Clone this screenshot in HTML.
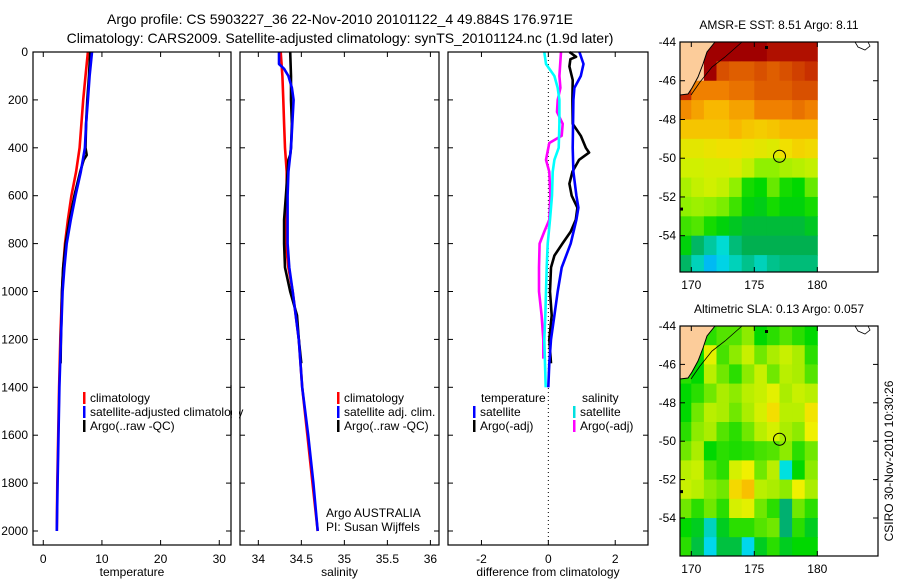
<!DOCTYPE html>
<html><head><meta charset="utf-8"><style>
body{margin:0;background:#fff;}
svg{display:block;font-family:"Liberation Sans",sans-serif;}
</style></head><body>
<svg id="fig" width="900" height="580" viewBox="0 0 900 580">
<text x="340" y="24" text-anchor="middle" font-size="14">Argo profile: CS 5903227_36 22-Nov-2010 20101122_4 49.884S 176.971E</text>
<text x="340" y="43" text-anchor="middle" font-size="14">Climatology: CARS2009. Satellite-adjusted climatology: synTS_20101124.nc (1.9d later)</text>
</svg>
<script>
// ---- profile data ----
const depthLevels=[0,100,200,300,400,500,600,700,800,900,1000,1200,1400,1600,1800,2000];
const tempClim=[7.6,7.2,6.8,6.5,6.2,5.6,4.8,4.2,3.7,3.4,3.2,2.9,2.7,2.55,2.4,2.3];
const tempSat=[8.3,7.9,7.6,7.3,7.1,6.4,5.5,4.7,4.0,3.6,3.3,3.0,2.75,2.6,2.45,2.3];
const argoDepth=[0,100,200,300,400,430,450,500,600,700,800,900,1000,1100,1200,1300];
const tempArgo=[8.0,7.8,7.5,7.3,7.2,7.4,6.9,6.3,5.3,4.5,3.8,3.4,3.2,3.1,3.0,2.95];
const salClim=[34.26,34.28,34.29,34.30,34.31,34.33,34.33,34.32,34.32,34.35,34.40,34.47,34.51,34.57,34.63,34.69];
const salSatDepth=[0,50,70,100,150,200,400,500,600,800,900,1000,1200,1400,1600,1800,2000];
const salSat=[34.24,34.24,34.30,34.35,34.39,34.41,34.38,34.35,34.34,34.34,34.36,34.40,34.47,34.51,34.58,34.64,34.69];
const salArgo=[34.37,34.38,34.38,34.39,34.38,34.37,34.35,34.34,34.32,34.30,34.30,34.31,34.37,34.45,34.47,34.50];
const diffTempSatDepth=[0,50,100,150,200,400,500,600,650,700,800,900,1000,1100,1200,1300,1400];
const diffTempSat=[0.93,1.05,0.97,0.78,0.75,0.73,0.75,0.84,0.9,0.84,0.67,0.4,0.28,0.18,0.08,0.03,0.0];
const diffTempArgoDepth=[0,20,30,60,117,200,300,350,400,420,450,500,550,600,650,700,750,800,850,900,1000,1100,1200,1300];
const diffTempArgo=[0.63,0.83,0.66,0.63,0.73,0.72,0.73,0.97,1.12,1.22,0.92,0.72,0.63,0.7,0.87,0.82,0.67,0.42,0.18,0.08,0.05,0.1,0.03,0.08];
const diffSalSatDepth=[0,50,100,150,200,300,400,450,500,600,700,800,900,1000,1100,1200,1400];
const diffSalSat=[-0.12,-0.07,0.18,0.28,0.33,0.33,0.31,0.18,0.13,0.11,0.05,-0.02,-0.05,-0.07,-0.09,-0.12,-0.08];
const diffSalArgoDepth=[0,100,150,200,250,300,350,380,450,500,600,700,750,800,900,1000,1100,1200,1280];
const diffSalArgo=[0.38,0.33,0.36,0.28,0.26,0.43,0.40,0.03,-0.07,0.03,0.06,0.03,-0.12,-0.26,-0.28,-0.28,-0.2,-0.15,-0.15];
// ---- map data (1-degree cells, rows from -44 southward, cols from 169) ----
const sstGrid=[
[null,null,12,12,12,12,12,11.8,11.8,11.8,11.8],
[null,null,12,11,10.8,10.8,11,10.8,11,11.2,11.4],
[11.5,10.3,10.3,10.3,10.5,10.5,10.8,10.8,10.8,11,11],
[10.2,10,9.8,9.8,10,10,10.3,10.3,10.3,10.5,10.3],
[9.6,9.6,9.6,9.6,9.8,9.6,9.5,9.6,9.8,9.8,9.8],
[9,9,9.1,9.2,9.2,9.1,9,8.9,9.2,9.4,9.3],
[8.7,8.7,8.8,8.8,8.9,8.6,8.2,8.2,8.4,8.5,8.6],
[8.4,8.6,8.7,8.6,8.2,7.6,7.5,8.0,7.6,7.5,8.0],
[8.2,8.3,8.2,8.1,7.8,7.4,7.3,7.6,7.4,7.4,7.6],
[7.8,7.9,7.6,7.4,7.2,7.0,7.0,7.0,7.0,7.0,7.2],
[7.4,6.6,6.0,5.6,6.4,6.8,6.8,6.8,6.8,6.8,6.8],
[6.6,5.8,5.2,5.4,5.8,6.2,5.8,6.2,6.4,6.4,6.4]];
const slaGrid=[
[null,null,-0.05,-0.02,-0.02,0.02,-0.08,-0.05,-0.02,-0.05,-0.08],
[null,-0.08,0.1,-0.03,0.02,0.06,0.0,0.04,0.06,0.04,-0.05],
[-0.05,-0.08,0.05,0.0,-0.05,0.02,0.06,0.0,0.05,0.04,-0.02],
[-0.08,-0.05,0.0,0.04,0.02,0.05,0.06,0.1,0.04,0.06,0.05],
[-0.08,0.0,0.05,0.04,0.0,0.04,0.08,0.15,0.05,0.05,0.14],
[-0.05,0.02,0.04,-0.02,-0.05,0.0,0.05,0.08,0.04,0.02,0.12],
[0.0,0.04,-0.08,-0.05,-0.06,-0.05,-0.03,-0.02,0.02,-0.05,0.0],
[0.05,0.06,-0.02,-0.05,0.08,0.12,0.0,0.05,-0.22,-0.08,0.02],
[0.06,0.05,0.02,0.0,0.16,0.2,0.05,0.04,0.02,0.12,0.04],
[0.0,-0.05,0.0,-0.05,0.08,0.1,0.0,-0.05,-0.15,0.0,-0.05],
[-0.08,-0.1,-0.2,-0.1,-0.05,-0.05,-0.02,0.0,-0.15,-0.05,-0.1],
[-0.05,-0.12,-0.25,-0.12,-0.12,-0.25,-0.1,-0.05,-0.1,-0.08,-0.08]];
const floatLon=177.0, floatLat=-49.9;
const tempTicks=[0,10,20,30], salTicks=[34,34.5,35,35.5,36], diffTicks=[-2,0,2];
const depthTicks=[0,200,400,600,800,1000,1200,1400,1600,1800,2000];
const latTicks=[-44,-46,-48,-50,-52,-54], lonTicks=[170,175,180];

const NS='http://www.w3.org/2000/svg', svg=document.getElementById('fig');
function el(tag,attrs,parent){const e=document.createElementNS(NS,tag);for(const k in attrs)e.setAttribute(k,attrs[k]);(parent||svg).appendChild(e);return e;}
function txt(x,y,s,attrs){const t=el('text',Object.assign({x:x,y:y,'font-size':12},attrs||{}));t.textContent=s;return t;}

const PT=52,PB=545, yD=d=>52+d*0.2395;
const panels=[
 {x0:33,x1:231,v0:-1.75,v1:32,ticks:tempTicks,label:'temperature',name:'temperature-panel',ylab:true},
 {x0:240,x1:439,v0:33.787,v1:36.1,ticks:salTicks,label:'salinity',name:'salinity-panel'},
 {x0:448,x1:648,v0:-3.0,v1:2.98,ticks:diffTicks,label:'difference from climatology',name:'difference-panel'}];
panels.forEach(p=>{p.sx=v=>p.x0+(v-p.v0)/(p.v1-p.v0)*(p.x1-p.x0);});

function axes(p){
  const g=el('g',{});
  
  
  p.ticks.forEach(v=>{const x=p.sx(v);
    el('line',{x1:x,x2:x,y1:PB,y2:PB-5,stroke:'#000'},g);el('line',{x1:x,x2:x,y1:PT,y2:PT+5,stroke:'#000'},g);
    const t=txt(x,563,String(v),{'text-anchor':'middle'});});
  depthTicks.forEach(d=>{const y=yD(d);
    el('line',{x1:p.x0,x2:p.x0+5,y1:y,y2:y,stroke:'#000'},g);el('line',{x1:p.x1,x2:p.x1-5,y1:y,y2:y,stroke:'#000'},g);
    if(p.ylab){const t=txt(p.x0-5,y+4,String(d),{'text-anchor':'end'});}});
  const xl=txt((p.x0+p.x1)/2,576,p.label,{'text-anchor':'middle'});
  
  
  return g;
}
function box(p){const r=el('rect',{x:p.x0,y:PT,width:p.x1-p.x0,height:PB-PT,fill:'none',stroke:'#000','stroke-width':1.2});}
function line(p,depths,vals,color,name){
  const pts=depths.map((d,i)=>p.sx(vals[i]).toFixed(1)+','+yD(d).toFixed(1)).join(' ');
  const l=el('polyline',{points:pts,fill:'none',stroke:color,'stroke-width':2.6,'stroke-linejoin':'round'});
  
  
}
panels.forEach(axes);
// zero line in diff panel
const zl=el('line',{x1:panels[2].sx(0),x2:panels[2].sx(0),y1:PT,y2:PB,stroke:'#000','stroke-dasharray':'1,3'});


const P0=panels[0],P1=panels[1],P2=panels[2];
line(P0,depthLevels,tempClim,'#ff0000','temp-climatology-line');
line(P0,argoDepth,tempArgo,'#000','temp-argo-line');
line(P0,depthLevels,tempSat,'#0000ff','temp-satellite-line');
line(P1,depthLevels,salClim,'#ff0000','sal-climatology-line');
line(P1,argoDepth,salArgo,'#000','sal-argo-line');
line(P1,salSatDepth,salSat,'#0000ff','sal-satellite-line');
line(P2,diffSalArgoDepth,diffSalArgo,'#ff00ff','diff-sal-argo-line');
line(P2,diffSalSatDepth,diffSalSat,'#00ffff','diff-sal-satellite-line');
line(P2,diffTempArgoDepth,diffTempArgo,'#000','diff-temp-argo-line');
line(P2,diffTempSatDepth,diffTempSat,'#0000ff','diff-temp-satellite-line');
panels.forEach(box);

function legend(x,y,color,label){
  const g=el('g',{});
  
  
  el('rect',{x:x,y:y-10,width:2.5,height:12,fill:color},g);
  const t=el('text',{x:x+7,y:y,'font-size':12},g);t.textContent=label;
}
legend(83,402,'#ff0000','climatology');legend(83,416,'#0000ff','satellite-adjusted climatology');legend(83,430,'#000','Argo(..raw -QC)');
// cover overflow of legend text past panel edge
const cov=el('rect',{x:232,y:385,width:7,height:50,fill:'#fff'});
el('line',{x1:231,x2:231,y1:385,y2:435,stroke:'#000','stroke-width':1.2});
legend(337,402,'#ff0000','climatology');legend(337,416,'#0000ff','satellite adj. clim.');legend(337,430,'#000','Argo(..raw -QC)');
txt(326,517,'Argo AUSTRALIA');
txt(326,531,'PI: Susan Wijffels');
txt(481,402,'temperature');
txt(582,402,'salinity');
legend(473,416,'#0000ff','satellite');legend(473,430,'#000','Argo(-adj)');
legend(573,416,'#00e0e0','satellite');legend(573,430,'#ff00ff','Argo(-adj)');

// ---- maps ----
const sstStops=[[5.0,[0,160,255]],[5.5,[0,224,224]],[6.0,[0,200,160]],[6.8,[0,176,80]],[7.5,[0,216,0]],[8.2,[144,240,0]],[8.7,[208,240,0]],[9.2,[240,224,0]],[9.8,[248,184,0]],[10.3,[240,128,0]],[11,[216,80,0]],[11.6,[192,32,0]],[12,[160,0,0]]];
const slaStops=[[-0.3,[0,200,255]],[-0.22,[0,224,224]],[-0.15,[0,176,112]],[-0.08,[0,216,0]],[0,[112,232,0]],[0.06,[200,240,0]],[0.12,[240,240,0]],[0.2,[248,192,0]],[0.28,[240,128,0]]];
function cmap(stops,v){if(v<=stops[0][0])return 'rgb('+stops[0][1]+')';
  for(let i=1;i<stops.length;i++){if(v<=stops[i][0]){const a=stops[i-1],b=stops[i],t=(v-a[0])/(b[0]-a[0]);
    return 'rgb('+a[1].map((c,k)=>Math.round(c+(b[1][k]-c)*t)).join(',')+')';}}
  return 'rgb('+stops[stops.length-1][1]+')';}
function map(top,bottom,latPx,grid,stops,title,name){
  const L=680,R=878,DR=818, sx=lon=>691.3+(lon-170)*12.6, sy=lat=>top+(-44-lat)*latPx;
  const g=el('g',{});
  
  
  el('rect',{x:L,y:top,width:R-L,height:bottom-top,fill:'#fff'},g);
  const cg=el('g',{},g);
  grid.forEach((row,r)=>row.forEach((v,c)=>{
    const x0=Math.max(L,sx(169+c)),x1=Math.min(DR,sx(170+c)),y0=sy(-44-r),y1=Math.min(bottom,sy(-45-r));
    const fill=v===null?'#fccc9a':cmap(stops,v);
    const cell=el('rect',{x:x0,y:y0,width:x1-x0+0.5,height:y1-y0+0.5,fill:fill},cg);
    
    }));
  // land
  const land=[[680,top],[715,top],[707,top+10],[703,top+22],[698,top+35],[692,top+46],[688,top+52],[680,top+53]];
  el('polygon',{points:land.map(p=>p.join(',')).join(' '),fill:'#fccc9a'},g);
  el('polyline',{points:'715,'+top+' 707,'+(top+10)+' 703,'+(top+22)+' 698,'+(top+35)+' 692,'+(top+46)+' 688,'+(top+52)+' 680,'+(top+53),fill:'none',stroke:'#000'},g);
  el('polyline',{points:'742,'+top+' 725,'+(top+15)+' 712,'+(top+25)+' 700,'+(top+40)+' 691,'+(top+53),fill:'none',stroke:'#000','stroke-width':0.8},g);
  el('polyline',{points:(855)+','+top+' 858,'+(top+5)+' 865,'+(top+8)+' 870,'+(top+4)+' 868,'+top,fill:'none',stroke:'#000','stroke-width':0.8},g);
  el('rect',{x:765,y:top+4,width:3,height:3,fill:'#000'},g);
  el('rect',{x:680,y:sy(-52.6)-1,width:3,height:3,fill:'#000'},g);
  const c=el('circle',{cx:sx(floatLon),cy:sy(floatLat),r:6,fill:'none',stroke:'#000','stroke-width':1},g);
  
  
  el('rect',{x:L,y:top,width:R-L,height:bottom-top,fill:'none',stroke:'#000','stroke-width':1.2},g);
  latTicks.forEach(lat=>{const y=sy(lat);el('line',{x1:L,x2:L+5,y1:y,y2:y,stroke:'#000'},g);el('line',{x1:R,x2:R-5,y1:y,y2:y,stroke:'#000'},g);
    const t=txt(L-4,y+4,String(lat),{'text-anchor':'end'});});
  lonTicks.forEach(lon=>{const x=sx(lon);el('line',{x1:x,x2:x,y1:bottom,y2:bottom-5,stroke:'#000'},g);el('line',{x1:x,x2:x,y1:top,y2:top+5,stroke:'#000'},g);
    const t=txt(x,bottom+17,String(lon),{'text-anchor':'middle'});});
  const tt=txt(779,top-13,title,{'text-anchor':'middle'});
  
  
}
map(42,272,19.37,sstGrid,sstStops,'AMSR-E SST: 8.51 Argo: 8.11','sst-map');
map(326,556,19.2,slaGrid,slaStops,'Altimetric SLA: 0.13 Argo: 0.057','sla-map');
const stamp=txt(0,0,'CSIRO 30-Nov-2010 10:30:26',{'text-anchor':'middle',transform:'translate(893,461) rotate(-90)'});


</script>
</body></html>
